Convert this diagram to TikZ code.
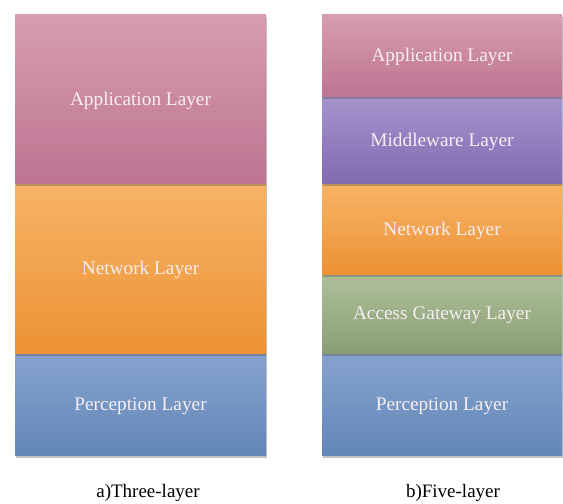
\documentclass[tikz,border=0pt]{standalone}
\usepackage{fontspec}
\setmainfont{Liberation Serif}
\usetikzlibrary{shadows}
\definecolor{appT}{RGB}{215,157,176}
\definecolor{appB}{RGB}{189,117,145}
\definecolor{netT}{RGB}{247,180,102}
\definecolor{netB}{RGB}{236,146,52}
\definecolor{perT}{RGB}{134,163,205}
\definecolor{perB}{RGB}{99,135,184}
\definecolor{midT}{RGB}{165,148,205}
\definecolor{midB}{RGB}{130,107,177}
\definecolor{accT}{RGB}{173,192,154}
\definecolor{accB}{RGB}{139,159,116}
\definecolor{txt}{RGB}{246,238,242}
\tikzset{
  layerbox/.style={rectangle, inner sep=0pt, outer sep=0pt, text=txt,
    text depth=0pt, font=\fontsize{19.3}{21}\selectfont,
    drop shadow={shadow xshift=1pt, shadow yshift=-2.5pt, opacity=0.35, fill=black!70}},
  caption/.style={anchor=base, font=\fontsize{19}{21}\selectfont, text=black}
}
\begin{document}
\begin{tikzpicture}[x=1pt,y=-1pt]
\useasboundingbox (0,0) rectangle (563,504);
% three-layer (drawn bottom first so upper shadows fall on lower parts)
\node[layerbox, minimum width=251pt, minimum height=102pt, top color=perT, bottom color=perB] (l3per) at (140.5,404) {Perception Layer};
\node[layerbox, minimum width=251pt, minimum height=170pt, top color=netT, bottom color=netB] (l3net) at (140.5,268) {Network Layer};
\node[layerbox, minimum width=251pt, minimum height=169pt, top color=appT, bottom color=appB] (l3app) at (140.5,98.5) {Application Layer};
% five-layer
\node[layerbox, minimum width=240pt, minimum height=102pt, top color=perT, bottom color=perB] (l5per) at (442,404) {Perception Layer};
\node[layerbox, minimum width=240pt, minimum height=79pt, top color=accT, bottom color=accB] (l5acc) at (442,313.5) {Access Gateway Layer};
\node[layerbox, minimum width=240pt, minimum height=91pt, top color=netT, bottom color=netB] (l5net) at (442,228.5) {Network Layer};
\node[layerbox, minimum width=240pt, minimum height=87pt, top color=midT, bottom color=midB] (l5mid) at (442,139.5) {Middleware Layer};
\node[layerbox, minimum width=240pt, minimum height=82pt, top color=appT, bottom color=appB] (l5app) at (442,55) {Application Layer};
% captions
\node[caption] (capa) at (148,497) {a)Three-layer};
\node[caption] (capb) at (453,497) {b)Five-layer};
\end{tikzpicture}
\end{document}
